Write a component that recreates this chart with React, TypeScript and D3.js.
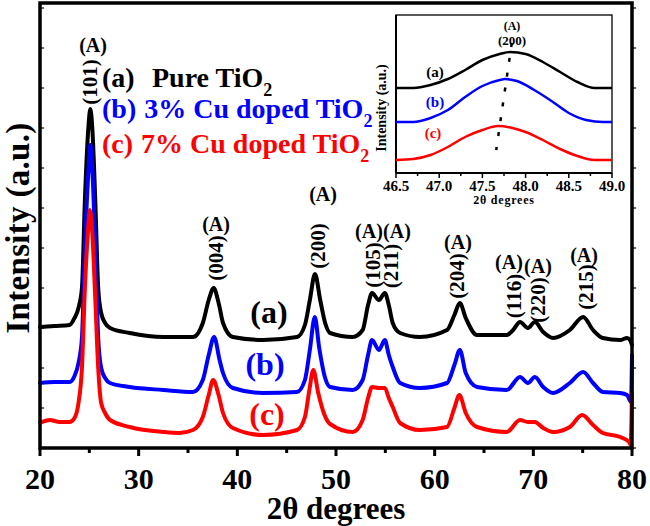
import React from 'react';
import * as d3 from 'd3';

// ---------- data ----------
const xTicks = [20, 30, 40, 50, 60, 70, 80];
const xMinorTicks = [25, 35, 45, 55, 65, 75];
const yTicks = [0, 40, 80, 120, 160, 200, 240, 280, 320, 360, 400, 440];
const insetTicks = [46.5, 47.0, 47.5, 48.0, 48.5, 49.0];
const insetMinorTicks = [46.75, 47.25, 47.75, 48.25, 48.75];

const seriesLetters = ['(a)', '(b)', '(c)'];
const seriesNames = ['Pure TiO', '3% Cu doped TiO', '7% Cu doped TiO'];
const seriesColors = ['#000000', '#0000ff', '#ff0000'];

// 2θ (deg), intensity (a.u.)
const pureTiO2: [number, number][] = [
  [20.0, 121], [21.5, 122], [23.0, 123], [23.5, 130], [23.9, 140], [24.25, 160], [24.55, 248], [24.9, 320], [25.1, 339],
  [25.3, 320], [25.6, 248], [25.9, 160], [26.2, 135], [26.6, 125], [27.1, 120], [29.1, 115], [32.5, 111], [35.5, 111],
  [36.5, 125], [37.1, 148], [37.6, 160], [38.15, 143], [38.55, 125], [39.55, 111], [42.6, 108], [46.05, 111],
  [46.85, 123], [47.35, 148], [47.87, 174], [48.4, 148], [48.9, 125], [49.4, 115], [51.7, 111], [52.7, 118],
  [53.25, 143], [53.65, 155], [54.35, 148], [54.95, 155], [55.35, 143], [55.75, 125], [56.5, 115], [58.5, 111],
  [61.25, 118], [62.0, 133], [62.55, 145], [63.15, 130], [64.3, 113], [67.3, 113], [67.95, 118], [68.65, 126],
  [69.45, 120], [70.15, 126], [71.0, 116], [72.0, 110], [73.7, 118], [75.05, 131], [76.05, 118], [77.05, 110],
  [78.8, 108], [79.5, 110], [79.8, 108], [80.0, 103],
];
const cu3TiO2: [number, number][] = [
  [20.0, 65], [21.5, 66], [23.0, 66], [23.5, 72], [23.9, 85], [24.25, 110], [24.55, 200], [24.9, 275], [25.1, 303],
  [25.3, 280], [25.6, 200], [25.9, 110], [26.2, 80], [26.6, 70], [27.1, 65], [29.1, 61], [32.5, 58], [35.5, 56],
  [36.5, 68], [37.1, 93], [37.65, 111], [38.2, 88], [38.55, 75], [39.55, 60], [42.6, 55], [46.05, 56],
  [46.85, 68], [47.35, 98], [47.85, 131], [48.3, 100], [48.9, 70], [49.4, 61], [51.7, 58], [52.7, 68],
  [53.25, 93], [53.65, 108], [54.35, 98], [54.95, 108], [55.35, 93], [55.75, 81], [56.5, 65], [58.5, 60],
  [61.25, 65], [62.0, 83], [62.55, 98], [63.15, 75], [64.3, 61], [67.3, 58], [68.65, 71], [69.45, 65],
  [70.15, 71], [71.0, 61], [72.0, 55], [73.7, 65], [75.05, 76], [76.05, 65], [77.05, 56], [78.8, 55],
  [79.5, 53], [79.9, 46], [80.0, 93],
];
const cu7TiO2: [number, number][] = [
  [20.0, 25], [21.0, 28], [22.0, 26], [23.0, 26], [23.5, 30], [23.9, 45], [24.25, 80], [24.55, 160], [24.85, 215],
  [25.05, 238], [25.3, 215], [25.6, 150], [25.9, 80], [26.2, 45], [26.6, 35], [27.1, 28], [29.1, 21], [32.5, 16],
  [34.1, 15], [35.5, 18], [36.5, 31], [37.1, 53], [37.55, 68], [38.1, 53], [38.55, 35], [39.55, 20], [42.6, 13],
  [46.05, 18], [46.85, 31], [47.3, 58], [47.7, 78], [48.2, 55], [48.8, 34], [49.4, 24], [51.7, 16], [52.7, 28],
  [53.25, 50], [53.65, 61], [54.35, 60], [54.95, 60], [55.35, 50], [55.75, 41], [56.5, 25], [58.5, 18],
  [61.25, 21], [62.0, 40], [62.5, 53], [63.15, 35], [64.3, 21], [67.3, 16], [68.65, 28], [69.45, 26],
  [70.15, 26], [71.0, 20], [72.0, 16], [73.7, 21], [74.95, 33], [76.05, 23], [77.05, 15], [78.8, 11],
  [79.7, 6], [79.85, 3], [80.0, 55],
];

// inset: (200) peak region
const insetPure: [number, number][] = [
  [46.5, 85], [46.7, 85], [46.9, 88], [47.1, 94], [47.3, 103], [47.5, 113], [47.7, 119], [47.82, 121],
  [48.0, 119], [48.2, 111], [48.4, 101], [48.6, 91], [48.8, 85], [49.0, 85],
];
const insetCu3: [number, number][] = [
  [46.5, 51], [46.7, 51], [46.9, 55], [47.1, 63], [47.3, 76], [47.5, 87], [47.7, 93], [47.76, 94],
  [47.9, 92], [48.1, 83], [48.3, 72], [48.5, 60], [48.7, 53], [48.9, 51], [49.0, 51],
];
const insetCu7: [number, number][] = [
  [46.5, 13], [46.7, 14], [46.9, 18], [47.1, 26], [47.3, 36], [47.5, 43], [47.68, 47], [47.85, 45],
  [48.0, 41], [48.2, 33], [48.4, 24], [48.6, 17], [48.8, 13], [49.0, 13],
];
const insetShiftLine: [number, number][] = [[47.84, 130], [47.66, 23]];

const peakHkl = ['(101)', '(004)', '(200)', '(105)', '(211)', '(204)', '(116)', '(220)', '(215)'];
const peakTheta = [25.07, 37.84, 48.18, 53.75, 55.57, 62.26, 68.04, 70.47, 75.34];

// ---------- layout ----------
const W = 650, H = 526;
const M = { left: 40, right: 632, top: 3, bottom: 448 };
const I = { left: 396, right: 612, top: 15, bottom: 173 };
const hklCenterY = [82, 258, 246, 265, 266, 276, 296, 300, 287];
const phaseBaseY = [52, 231, 201, 238, 238, 249, 269, 273, 262];
const phaseDx = [3, 0, 5, -4, 6, 1, -5, 0, -2];
const FONT = "'Liberation Serif', 'Times New Roman', Times, serif";

export default function App() {
  const x = d3.scaleLinear().domain([20, 80]).range([M.left, M.right]);
  const y = d3.scaleLinear().domain([0, 445]).range([M.bottom, M.top]);
  const xi = d3.scaleLinear().domain([46.5, 49]).range([I.left, I.right]);
  const yi = d3.scaleLinear().domain([0, 158]).range([I.bottom, I.top]);

  const line = d3.line<[number, number]>().x(d => x(d[0])).y(d => y(d[1])).curve(d3.curveMonotoneX);
  const lineI = d3.line<[number, number]>().x(d => xi(d[0])).y(d => yi(d[1])).curve(d3.curveMonotoneX);
  const lineS = d3.line<[number, number]>().x(d => xi(d[0])).y(d => yi(d[1]));

  const main = [pureTiO2, cu3TiO2, cu7TiO2];
  const inset = [insetPure, insetCu3, insetCu7];
  const mainLabelPos = [[269, 323], [265, 375], [267, 425]];
  const insetLabelPos = [[435, 77], [435, 107], [433, 138]];
  const legendY = [87, 118, 153];

  return (
    <svg width={W} height={H} style={{ position: 'absolute', left: 0, top: 0, background: '#fff' }}
      fontFamily={FONT} fontWeight="bold">
      <rect x={0} y={0} width={W} height={H} fill="#fff" />
      {/* main curves */}
      {main.map((s, i) => (
        <path key={i} d={line(s) || ''} fill="none" stroke={seriesColors[i]} strokeWidth={4}
          strokeLinejoin="round" strokeLinecap="round" />
      ))}
      {/* frame */}
      <rect x={M.left} y={M.top} width={M.right - M.left} height={M.bottom - M.top} fill="none"
        stroke="#000" strokeWidth={3.5} />
      {/* x ticks */}
      {xTicks.map(t => (
        <line key={'xt' + t} x1={x(t)} x2={x(t)} y1={M.bottom} y2={M.bottom + 8} stroke="#000" strokeWidth={3} />
      ))}
      {xMinorTicks.map(t => (
        <line key={'xm' + t} x1={x(t)} x2={x(t)} y1={M.bottom} y2={M.bottom + 5} stroke="#000" strokeWidth={3} />
      ))}
      {yTicks.map(t => (
        <g key={'yt' + t}>
          <line x1={M.left} x2={M.left + 4} y1={y(t)} y2={y(t)} stroke="#000" strokeWidth={1.2} />
          <line x1={M.right} x2={M.right + 4} y1={y(t)} y2={y(t)} stroke="#000" strokeWidth={1.2} />
        </g>
      ))}
      {xTicks.map(t => (
        <text key={'xl' + t} x={x(t)} y={489} textAnchor="middle" fontSize={30}>{t}</text>
      ))}
      <text x={(M.left + M.right) / 2} y={519} textAnchor="middle" fontSize={31}>2θ degrees</text>
      <text transform={`translate(29, 228) rotate(-90)`} textAnchor="middle" fontSize={33}
        letterSpacing={0.3}>Intensity (a.u.)</text>

      {/* series labels on curves */}
      {seriesLetters.map((s, i) => (
        <text key={'sl' + i} x={mainLabelPos[i][0]} y={mainLabelPos[i][1]} textAnchor="middle" fontSize={32}
          fill={seriesColors[i]}>{s}</text>
      ))}

      {/* legend */}
      {seriesNames.map((s, i) => (
        <text key={'lg' + i} x={102} y={legendY[i]} fontSize={28} fill={seriesColors[i]}>
          <tspan>{seriesLetters[i]}</tspan>
          <tspan x={i === 0 ? 152 : undefined} dx={i === 0 ? 0 : 8}>{s}</tspan>
          <tspan fontSize={18} dy={9}>2</tspan>
        </text>
      ))}

      {/* peak labels */}
      {peakHkl.map((h, i) => (
        <g key={'pk' + i}>
          <text x={x(peakTheta[i]) + phaseDx[i]} y={phaseBaseY[i]} textAnchor="middle" fontSize={20}>(A)</text>
          <text transform={`translate(${x(peakTheta[i]) + 7}, ${hklCenterY[i]}) rotate(-90)`} textAnchor="middle"
            fontSize={21}>{h}</text>
        </g>
      ))}

      {/* inset */}
      <rect x={I.left} y={I.top} width={I.right - I.left} height={I.bottom - I.top} fill="#fff" stroke="#000"
        strokeWidth={1.3} />
      <line x1={I.left} x2={I.left} y1={I.top} y2={I.bottom} stroke="#000" strokeWidth={2} />
      <line x1={I.left} x2={I.right} y1={I.bottom} y2={I.bottom} stroke="#000" strokeWidth={2} />
      {inset.map((s, i) => (
        <path key={'in' + i} d={lineI(s) || ''} fill="none" stroke={seriesColors[i]} strokeWidth={2.5} />
      ))}
      <path d={lineS(insetShiftLine) || ''} stroke="#000" strokeWidth={2.5} strokeDasharray="4 11" fill="none" />
      {insetTicks.map(t => (
        <line key={'it' + t} x1={xi(t)} x2={xi(t)} y1={I.bottom} y2={I.bottom + 5} stroke="#000" strokeWidth={1.5} />
      ))}
      {insetMinorTicks.map(t => (
        <line key={'im' + t} x1={xi(t)} x2={xi(t)} y1={I.bottom} y2={I.bottom + 3} stroke="#000" strokeWidth={1.5} />
      ))}
      {insetTicks.map(t => (
        <text key={'il' + t} x={xi(t)} y={191} textAnchor="middle" fontSize={15}>{t.toFixed(1)}</text>
      ))}
      <text x={(I.left + I.right) / 2} y={204} textAnchor="middle" fontSize={12} letterSpacing={0.8}>2θ degrees</text>
      <text transform={`translate(386, 108) rotate(-90)`} textAnchor="middle" fontSize={14}>Intensity (a.u.)</text>
      {seriesLetters.map((s, i) => (
        <text key={'isl' + i} x={insetLabelPos[i][0]} y={insetLabelPos[i][1]} textAnchor="middle" fontSize={15}
          fill={seriesColors[i]}>{s}</text>
      ))}
      <text x={512} y={30} textAnchor="middle" fontSize={12}>(A)</text>
      <text x={512} y={45} textAnchor="middle" fontSize={13}>(200)</text>
    </svg>
  );
}
